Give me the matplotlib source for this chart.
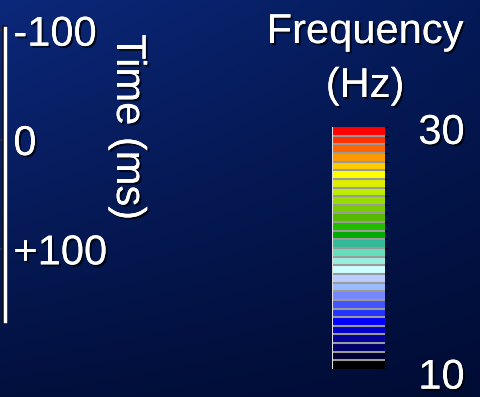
import numpy as np
import matplotlib.pyplot as plt
import matplotlib.colors as mcolors
import matplotlib.patheffects as pe
from matplotlib.colorbar import ColorbarBase

plt.rcParams["font.family"] = ["Liberation Sans", "DejaVu Sans"]

# frequency key, top (30 Hz) to bottom (10 Hz)
seg_colors = [
    "#ff0000", "#ff3300", "#ff6600", "#ff9900", "#ffcc00", "#ffff00",
    "#ddee00", "#bbee00", "#99dd00", "#77cc00", "#55bb00", "#22bb00",
    "#00aa00", "#33bb99", "#66ddbb", "#99eedd", "#ccffff", "#bbccff",
    "#99bbff", "#7788ff", "#4455ff", "#2233ff", "#0000ff", "#0000cc",
    "#000099", "#000066", "#000033", "#000000",
]
freq_min, freq_max = 10, 30

time_ticks = [-100, 0, 100]
time_labels = ["-100", "0", "+100"]
time_range = (-102, 166)

W, H = 481, 397
fig = plt.figure(figsize=(W / 100, H / 100), dpi=100)

# dark blue backdrop, brighter toward the top left
bg = fig.add_axes([0, 0, 1, 1])
yy, xx = np.mgrid[0:1:200j, 0:1:240j]
top_left = np.array([12, 40, 122]) / 255
top_right = np.array([4, 26, 88]) / 255
bot_left = np.array([2, 16, 62]) / 255
bot_right = np.array([1, 12, 52]) / 255
img = ((1 - xx)[..., None] * (1 - yy)[..., None] * top_left
       + xx[..., None] * (1 - yy)[..., None] * top_right
       + (1 - xx)[..., None] * yy[..., None] * bot_left
       + xx[..., None] * yy[..., None] * bot_right)
bg.imshow(img, aspect="auto", extent=[0, 1, 1, 0])
bg.set_axis_off()

shadow = [pe.withSimplePatchShadow(offset=(1.5, -1.5), shadow_rgbFace="black", alpha=0.7), pe.Normal()]

def px(x0, y0, x1, y1):
    return [x0 / W, 1 - y1 / H, (x1 - x0) / W, (y1 - y0) / H]

# time axis
tax = fig.add_axes(px(-40, 28, 5, 321))
tax.patch.set_visible(False)
for s in ["top", "bottom", "left"]:
    tax.spines[s].set_visible(False)
tax.spines["right"].set_color("white")
tax.spines["right"].set_linewidth(2.5)
tax.spines["right"].set_path_effects([pe.Stroke(linewidth=4, foreground="#111111"), pe.Normal()])
tax.set_ylim(time_range[1], time_range[0])
tax.set_xticks([])
tax.yaxis.set_ticks_position("right")
tax.set_yticks(time_ticks, time_labels)
tax.tick_params(axis="y", direction="in", length=4, width=1.2, color="#333333",
                labelsize=30, labelcolor="white", pad=6)
for lbl in tax.get_yticklabels():
    lbl.set_path_effects(shadow)

fig.text(128 / W, 1 - 127 / H, "Time (ms)", rotation=-90, ha="center", va="center",
         fontsize=30, color="white", path_effects=shadow)

# frequency key
cax = fig.add_axes(px(332, 127, 385, 369))
cmap = mcolors.ListedColormap(seg_colors[::-1])
bounds = np.linspace(freq_min, freq_max, len(seg_colors) + 1)
norm = mcolors.BoundaryNorm(bounds, cmap.N)
cb = ColorbarBase(cax, cmap=cmap, norm=norm, boundaries=bounds, drawedges=True,
                  orientation="vertical")
cb.outline.set_visible(False)
cb.dividers.set_color("#9a9a9a")
cb.dividers.set_linewidth(1.5)
cax.axvline(0, color="#e0e0e0", lw=1.5)
cb.set_ticks([])
for val, dy in [(freq_max, -1), (freq_min, -3)]:
    cax.annotate(str(val), xy=(1, val), xycoords="data", xytext=(24, dy),
                 textcoords="offset points", ha="left", va="center_baseline",
                 fontsize=30, color="white", path_effects=shadow,
                 annotation_clip=False)

fig.text(365 / W, 1 - 43 / H, "Frequency", ha="center", va="baseline",
         fontsize=30, color="white", path_effects=shadow)
fig.text(365 / W, 1 - 97 / H, "(Hz)", ha="center", va="baseline",
         fontsize=30, color="white", path_effects=shadow)

fig.savefig("out.png", dpi=100)
